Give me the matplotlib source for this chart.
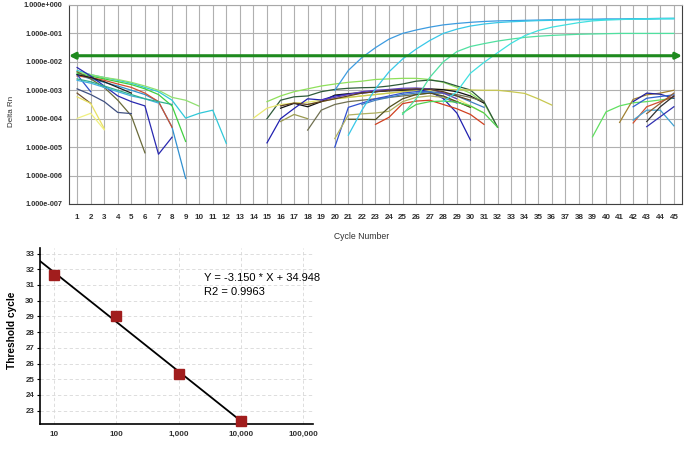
import numpy as np
import matplotlib
matplotlib.use("Agg")
import matplotlib.pyplot as plt
from matplotlib.ticker import FixedLocator, NullLocator

plt.rcParams['font.family'] = ['Liberation Sans', 'DejaVu Sans']

# ---------- amplification plot: log10(Delta Rn) per cycle ----------
cycle_ticks = list(range(1, 46))
threshold = 0.0164

# early noise (cycles 1-12)
e01 = [-2.3, -2.45, -2.55, -2.65, -2.75, -2.9, -3.05, -3.35, -3.98, -3.81, -3.7, -4.87]
e02 = [-2.35, -2.45, -2.55, -2.62, -2.72, -2.85, -3.0, -3.25, -3.35, -3.56]
e03 = [-2.4, -2.5, -2.6, -2.7, -2.8, -2.95, -3.15, -3.55, -4.8]
e04 = [-2.45, -2.6, -2.72, -2.85, -3.0, -3.15, -3.4, -4.3, -6.1]
e05 = [-2.5, -2.55, -2.65, -2.78, -2.9, -3.1, -3.4, -4.3]
e06 = [-2.2, -2.5, -2.85, -3.2, -3.4, -3.55, -5.25, -4.65]
e07 = [-2.35, -2.6, -2.9, -3.35, -3.9, -5.2]
e08 = [-2.45, -3.05]
e09 = [-3.1, -3.46]
e10 = [-3.23, -3.46, -4.35]
e11 = [-3.99, -3.81, -4.39]
e12 = [-2.95, -3.15, -3.4, -3.78, -3.82]
e13 = [-2.65, -2.75, -2.9, -3.05, -3.2, -3.3, -3.45]
e14 = [-2.6, -2.7, -2.85, -3.0, -3.15, -3.3, -3.4, -3.5]
e15 = [-2.45, -2.55, -2.7, -2.9, -3.1]

# amplified samples
a01 = [-3.0, -2.3, -1.85, -1.5, -1.2, -1.0, -0.88, -0.78, -0.7, -0.65, -0.61, -0.58, -0.56,
       -0.55, -0.54, -0.53, -0.52, -0.51, -0.5, -0.5, -0.49, -0.49, -0.48, -0.48, -0.47, -0.47]
a02 = [-4.58, -3.7, -2.95, -2.35, -1.9, -1.55, -1.25, -1.0, -0.85, -0.74, -0.67, -0.62, -0.59,
       -0.57, -0.55, -0.54, -0.53, -0.52, -0.52, -0.51, -0.51, -0.5, -0.5, -0.49, -0.49]
a03 = [-3.85, -3.3, -2.55, -2.0, -1.64, -1.46, -1.36, -1.27, -1.2, -1.14, -1.1, -1.07, -1.05,
       -1.03, -1.02, -1.01, -1.0, -1.0, -1.0, -1.0, -1.0]
a04 = [-3.4, -3.05, -2.4, -2.02, -1.68, -1.35, -1.08, -0.9, -0.78, -0.7, -0.62, -0.56, -0.53,
       -0.51, -0.5, -0.49, -0.48, -0.47]

# background curves (cycles 14-36)
m01 = [-3.4, -3.2, -3.05, -2.95, -2.85, -2.78, -2.72, -2.68, -2.62, -2.6, -2.58, -2.58, -2.62,
       -2.72, -2.9, -3.1, -3.45, -4.3]
m02 = [-4.0, -3.35, -3.23, -3.2, -3.05, -2.97, -2.93, -2.91, -2.9, -2.85, -2.78, -2.68, -2.64,
       -2.7, -2.85, -2.99, -3.4, -4.3]
m03 = [-3.98, -3.63, -3.5, -3.45, -3.42, -3.35, -3.3, -3.25, -3.2, -3.15, -3.1, -3.05, -3.0,
       -3.0, -3.1, -3.3, -3.55, -3.8]
m04 = [-3.5, -3.4, -3.3, -3.25, -3.2, -3.15, -3.1, -3.05, -3.0, -2.97, -2.97, -2.98, -2.99,
       -3.0, -3.0, -3.05, -3.11, -3.3, -3.52]
m05 = [-3.63, -3.46, -3.58, -3.4, -3.17, -3.12, -3.08, -3.05, -3.02, -3.0, -2.97, -2.95, -2.98,
       -3.05, -3.2, -3.45]
m06 = [-4.85, -4.0, -3.64, -3.3, -3.34, -3.2, -3.14, -3.1, -3.05, -3.0, -2.97, -2.97, -3.05,
       -3.29, -3.8, -4.75]
m07 = [-4.1, -3.85, -4.0]
m08 = [-4.4, -3.7, -3.5, -3.4, -3.35, -3.3, -3.25, -3.2, -3.15, -3.1, -3.1, -3.15, -3.25, -3.4]
m09 = [-5.0, -3.6, -3.45, -3.3, -3.2, -3.1, -3.05, -3.05, -3.25, -3.45]
m10 = [-4.7, -3.87, -3.83, -3.8, -3.74, -3.4, -3.25, -3.2, -3.25, -3.4, -3.6]
m11 = [-4.02, -4.02, -4.03, -3.6, -3.3, -3.15, -3.1, -3.2, -3.4, -3.6]
m12 = [-4.2, -3.95, -3.47, -3.38, -3.35, -3.5, -3.65, -3.85, -4.2]
m13 = [-3.8, -3.5, -3.4, -3.38, -3.42, -3.55, -3.8, -4.3]
m14 = [-3.5, -3.35, -3.25, -3.15, -3.1, -3.05, -3.1, -3.2, -3.4, -3.6]
m15 = [-3.35, -3.25, -3.15, -3.05, -3.0, -2.97, -2.93, -2.92, -2.95, -3.1, -3.3]
m16 = [-3.55, -3.45, -3.5, -3.4, -3.3, -3.2, -3.1, -3.05, -3.0, -2.98, -2.95, -2.97, -3.05,
       -3.2, -3.35]

# late curves (cycles 39-45)
l01 = [-4.64, -3.76, -3.55, -3.44, -3.4, -3.34, -3.28]
l02 = [-4.13, -3.32, -3.16, -3.1, -3.0]
l03 = [-3.4, -3.1, -3.14, -3.28]
l04 = [-3.58, -3.28, -3.22, -3.16]
l05 = [-4.15, -3.58, -3.4, -3.22]
l06 = [-4.05, -3.7, -3.7, -4.25]
l07 = [-4.28, -3.93, -3.58]
l08 = [-4.1, -3.58, -3.2]
l09 = [-3.82, -3.46, -3.1]

series = [e01, e02, e03, e04, e05, e06, e07, e08, e09, e10, e11, e12, e13, e14, e15,
          m01, m02, m03, m04, m05, m06, m07, m08, m09, m10, m11, m12, m13, m14, m15, m16,
          l01, l02, l03, l04, l05, l06, l07, l08, l09,
          a01, a02, a03, a04]
first_cycle = [1] * 15 + [15, 15, 14, 18, 16, 15, 16, 18, 20, 20, 21, 23, 25, 22, 19, 16] \
    + [39, 41, 42, 42, 42, 42, 43, 43, 43] + [20, 21, 25, 28]
colors = ['#30c8d8', '#90e070', '#40d040', '#3090d0', '#d05030', '#2828b0', '#6a6a3a',
          '#3050c8', '#705030', '#e8e060', '#f0f080', '#405080', '#40b0e0', '#30b090', '#202020',
          '#8ee05a', '#2e5a3a', '#e8e870', '#c8c850', '#101010', '#2020b0', '#9a9a50',
          '#707050', '#3050d0', '#b0b060', '#505020', '#d04020', '#50d050', '#4080c0',
          '#6040c0', '#604020',
          '#60e060', '#a08030', '#2020a0', '#3060d0', '#d05030', '#40a0d0', '#3030b0',
          '#303030', '#906030',
          '#3c9be0', '#38c8e8', '#50e0a0', '#40e0e0']

# ---------- standard curve ----------
copies = [10, 100, 1000, 10000]
ct_values = [31.62, 29.0, 25.35, 22.35]
slope, intercept = -3.150, 34.948
copy_ticks = [10, 100, 1000, 10000, 100000]
copy_labels = ['10', '100', '1,000', '10,000', '100,000']

fig = plt.figure(figsize=(6.85, 4.53), dpi=100)

# top: amplification plot
ax = fig.add_axes([0.1007, 0.5497, 0.8949, 0.4393])
for vals, c0, col in zip(series, first_cycle, colors):
    cyc = np.arange(c0, c0 + len(vals))
    ax.plot(cyc, 10 ** np.array(vals), color=col, lw=0.9)
ax.set_yscale('log')
ax.set_xlim(0.4, 45.6)
ax.set_ylim(1e-7, 1)
ax.xaxis.set_major_locator(FixedLocator(cycle_ticks))
ax.yaxis.set_major_locator(FixedLocator([10.0 ** k for k in range(-7, 1)]))
ax.yaxis.set_minor_locator(NullLocator())
ax.set_yticklabels(['1.000e%+04d' % k for k in range(-7, 1)])
ax.grid(True, color='#b0b0b0', lw=0.8)
ax.set_axisbelow(True)
ax.tick_params(axis='y', length=0, labelsize=5.3, pad=5)
ax.tick_params(axis='x', length=0, labelsize=5.8, pad=7)
for lab in ax.get_xticklabels() + ax.get_yticklabels():
    lab.set_fontweight('bold')
    lab.set_color('#303030')
for s in ['left', 'bottom', 'right']:
    ax.spines[s].set_color('#404040')
ax.spines['top'].set_color('#a8a8a8')
ax.annotate('', xy=(1.0, threshold), xytext=(0.0, threshold),
            xycoords=('axes fraction', 'data'),
            arrowprops=dict(arrowstyle='<|-|>,head_length=0.35,head_width=0.18',
                            color='#1e8a1e', lw=2.2, shrinkA=0, shrinkB=0))
fig.text(0.0175, 0.755, 'Delta Rn', rotation=90, fontsize=5.8, ha='center', va='center',
         color='#303030')
fig.text(0.528, 0.477, 'Cycle Number', fontsize=6.2, ha='center', va='center',
         color='#303030')

# bottom: standard curve
bx = fig.add_axes([0.0584, 0.064, 0.3985, 0.3885])
bx.set_xscale('log')
bx.set_xlim(5.9, 145000)
bx.set_ylim(22.15, 33.35)
fit_x = np.array([5.9, 10000])
bx.plot(fit_x, slope * np.log10(fit_x) + intercept, color='black', lw=1.3, zorder=3)
bx.plot(copies, ct_values, 's', color='#a11d1d', ms=6.5, zorder=4, clip_on=False)
bx.xaxis.set_major_locator(FixedLocator(copy_ticks))
bx.xaxis.set_minor_locator(NullLocator())
bx.set_xticklabels(copy_labels)
bx.set_yticks(range(23, 34))
bx.grid(True, color='#d8d8d8', lw=0.6, ls=(0, (4, 3)))
bx.set_axisbelow(True)
for s in ['top', 'right']:
    bx.spines[s].set_visible(False)
for s in ['left', 'bottom']:
    bx.spines[s].set_linewidth(1.2)
bx.tick_params(axis='y', length=2.5, labelsize=5.8, pad=1.5)
bx.tick_params(axis='x', length=0, labelsize=5.8, pad=5)
for lab in bx.get_xticklabels() + bx.get_yticklabels():
    lab.set_fontweight('bold')
    lab.set_color('#303030')
fig.text(0.0175, 0.27, 'Threshold cycle', rotation=90, fontsize=7.3, fontweight='bold',
         ha='center', va='center')
fig.text(0.298, 0.386, 'Y = -3.150 * X + 34.948', fontsize=8, va='center')
fig.text(0.298, 0.355, 'R2 = 0.9963', fontsize=8, va='center')

fig.savefig('out.png', dpi=100)
